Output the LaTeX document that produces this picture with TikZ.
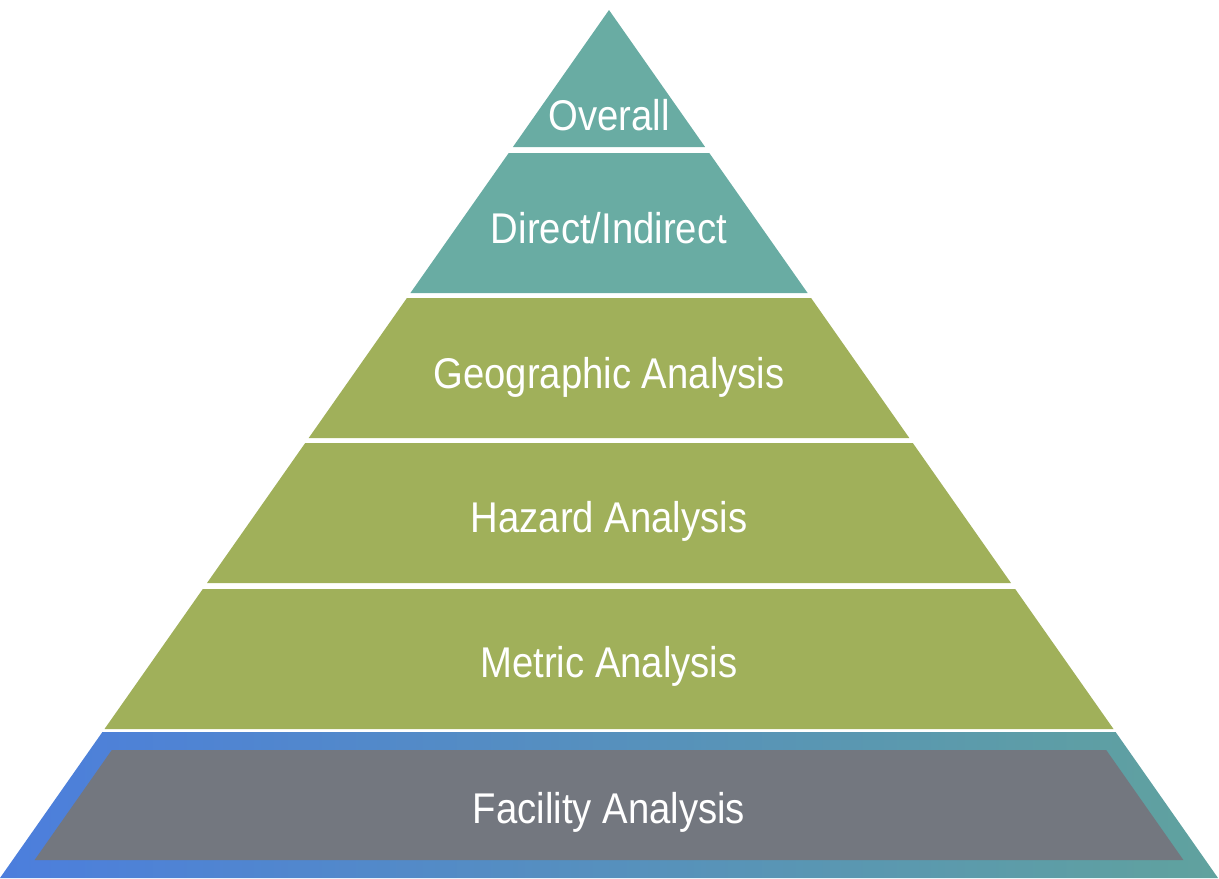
\documentclass[tikz,border=0pt]{standalone}
\usepackage{fontspec}
\setmainfont[FakeStretch=0.89]{Liberation Sans}
\definecolor{topteal}{RGB}{105,172,163}
\definecolor{midgreen}{RGB}{160,176,90}
\definecolor{basegray}{RGB}{115,119,127}
\definecolor{rimblue}{RGB}{76,126,221}
\definecolor{rimteal}{RGB}{96,162,158}

\begin{document}
\begin{tikzpicture}[x=0.5pt, y=-0.5pt,
        lbl/.style={text=white, font=\fontsize{21.5}{24}\selectfont, anchor=base, inner sep=0pt}]
        \useasboundingbox (0, 0) rectangle (1219, 878);

        \fill [topteal] (609, 10) -- (705.1, 147) -- (512.9, 147) -- cycle;
        \fill [topteal] (508.7, 153) -- (709.3, 153) -- (807.6, 293) -- (410.4, 293) -- cycle;
        \fill [midgreen] (406.9, 298) -- (811.1, 298) -- (909.3, 438) -- (308.7, 438) -- cycle;
        \fill [midgreen] (305.2, 443) -- (912.8, 443) -- (1011.0, 583) -- (207.0, 583) -- cycle;
        \fill [midgreen] (202.8, 589) -- (1015.2, 589) -- (1113.5, 729) -- (104.5, 729) -- cycle;

        \shade [left color=rimblue, right color=rimteal] (102.4, 732) -- (1115.6, 732) -- (1218, 878) -- (0, 878) -- cycle;
        \fill [basegray] (111.8, 750) -- (1106.2, 750) -- (1183.4, 860) -- (34.6, 860) -- cycle;

        \node [lbl] (L1) at (609, 130) {Overall};
        \node [lbl] (L2) at (609, 243) {Direct/Indirect};
        \node [lbl] (L3) at (609, 388) {Geographic Analysis};
        \node [lbl] (L4) at (609, 532) {Hazard Analysis};
        \node [lbl] (L5) at (609, 677) {Metric Analysis};
        \node [lbl] (L6) at (609, 823) {Facility Analysis};
    \end{tikzpicture}
\end{document}
